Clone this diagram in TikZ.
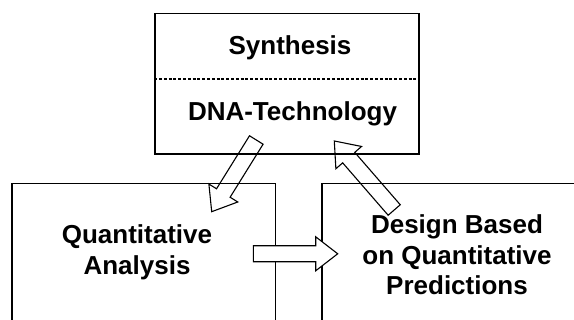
\documentclass[tikz,border=0pt]{standalone}
\usepackage{fontspec}
\setmainfont{Liberation Sans}
\usepackage{tikz}
\usetikzlibrary{calc}

\tikzset{
  frame/.style={draw, line width=1.5pt, inner sep=0pt},
  split line/.style={line width=1.3pt, dash pattern=on 3pt off 1.8pt},
  label text/.style={font=\fontsize{26}{30.5}\selectfont\bfseries, align=center, anchor=base, inner sep=0pt},
  block arrow/.style={draw, line width=1.1pt, line join=miter},
}

% hollow block arrow from #2 (tail) to #3 (tip)
\newcommand{\blockarrow}[3][]{%
  \coordinate (ab) at ($(#3)!22pt!(#2)$);
  \draw[block arrow,#1] ($(#2)!8pt!90:(#3)$) -- ($(ab)!8pt!90:(#3)$) -- ($(ab)!17pt!90:(#3)$)
    -- (#3) -- ($(ab)!17pt!-90:(#3)$) -- ($(ab)!8pt!-90:(#3)$) -- ($(#2)!8pt!-90:(#3)$) -- cycle;
}

\begin{document}
\begin{tikzpicture}[x=1pt, y=1pt]
	\useasboundingbox (0,0) rectangle (574,320);
	\node[frame, minimum width=264pt, minimum height=140.7pt] (topbox) at (287,236.3) {};
	\node[frame, minimum width=263.6pt, minimum height=166.3pt] (anabox) at (143.8,53.15) {};
	\node[frame, minimum width=298pt, minimum height=166.3pt] (desbox) at (471,53.15) {};
	\draw[split line] ($(topbox.west)+(0,4.7)$) -- ($(topbox.east)+(0,4.7)$);
	\node[label text] (synth) at (290,265) {Synthesis};
	\node[label text] (dna) at (292.5,199) {DNA-Technology};
	% base anchor sits on the last line
	\node[label text] (quant) at (137,45.7) {Quantitative\\Analysis};
	\node[label text] (design) at (457,25) {Design Based\\on Quantitative\\Predictions};
	\coordinate (a1 tail) at (256.3,180);
	\coordinate (a1 tip) at (211.7,108.3);
	\coordinate (a2 tail) at (394.2,110);
	\coordinate (a2 tip) at (334.3,179);
	\coordinate (a3 tail) at (253.3,66.2);
	\coordinate (a3 tip) at (337.7,66.2);
	\blockarrow{a1 tail}{a1 tip}
	\blockarrow{a2 tail}{a2 tip}
	\blockarrow[fill=white]{a3 tail}{a3 tip}
\end{tikzpicture}
\end{document}
